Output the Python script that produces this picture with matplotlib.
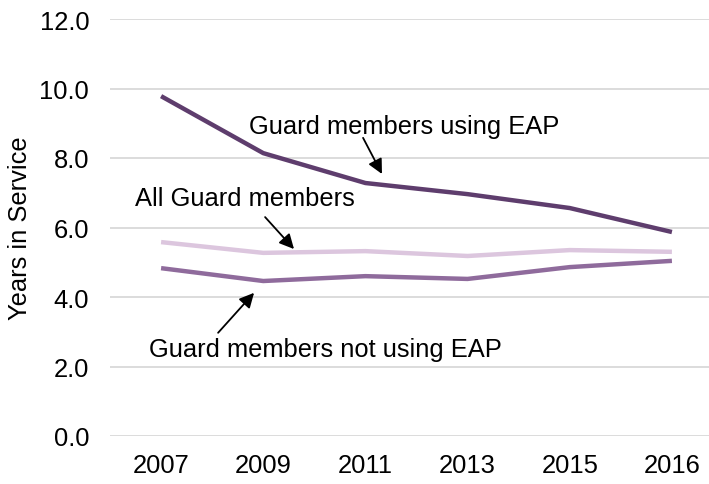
import matplotlib
matplotlib.use('Agg')
import matplotlib.pyplot as plt

years = ['2007', '2009', '2011', '2013', '2015', '2016']
eap_users = [9.78, 8.14, 7.28, 6.96, 6.56, 5.87]
all_members = [5.58, 5.27, 5.32, 5.18, 5.35, 5.30]
non_users = [4.83, 4.46, 4.60, 4.52, 4.86, 5.04]

plt.rcParams['font.family'] = ['Liberation Sans', 'DejaVu Sans']

fig = plt.figure(figsize=(7.09, 4.85), dpi=100)
# plot area runs slightly past the right edge, like the original
ax = fig.add_axes([110 / 709, 48 / 485, 613 / 709, 417 / 485])

x = range(len(years))
ax.plot(x, all_members, color='#dcc6de', lw=3.2, solid_capstyle='butt')
ax.plot(x, non_users, color='#8f6b9c', lw=3.2, solid_capstyle='butt')
ax.plot(x, eap_users, color='#5e3d6d', lw=3.2, solid_capstyle='butt')

ax.set_xlim(-0.5, len(years) - 0.5)
ax.set_ylim(0, 12)
ax.set_yticks([0, 2, 4, 6, 8, 10, 12])
ax.set_yticklabels(['%.1f' % v for v in [0, 2, 4, 6, 8, 10, 12]])
ax.set_xticks(list(x))
ax.set_xticklabels(years)
ax.tick_params(axis='both', length=0, labelsize=18.4)
ax.tick_params(axis='y', pad=15)
ax.tick_params(axis='x', pad=12)
ax.grid(axis='y', color='#d9d9d9', lw=1.3)
ax.set_axisbelow(True)
for s in ax.spines.values():
    s.set_visible(False)
fig.text(20 / 709, 1 - 228 / 485, 'Years in Service', rotation=90,
         ha='center', va='center', fontsize=18.4)

arrow = dict(arrowstyle='-|>', color='black', lw=1.3, mutation_scale=22,
             shrinkA=0, shrinkB=0)
ax.text(2.378, 8.92, 'Guard members using EAP', ha='center', va='center', fontsize=18.4)
ax.annotate('', xy=(2.162, 7.54), xytext=(1.977, 8.58), arrowprops=arrow)
ax.text(0.822, 6.85, 'All Guard members', ha='center', va='center', fontsize=18.4)
ax.annotate('', xy=(1.301, 5.38), xytext=(1.018, 6.30), arrowprops=arrow)
ax.text(1.605, 2.50, 'Guard members not using EAP', ha='center', va='center', fontsize=18.4)
ax.annotate('', xy=(0.910, 4.12), xytext=(0.558, 2.97), arrowprops=arrow)

fig.savefig('out.png', dpi=100)
